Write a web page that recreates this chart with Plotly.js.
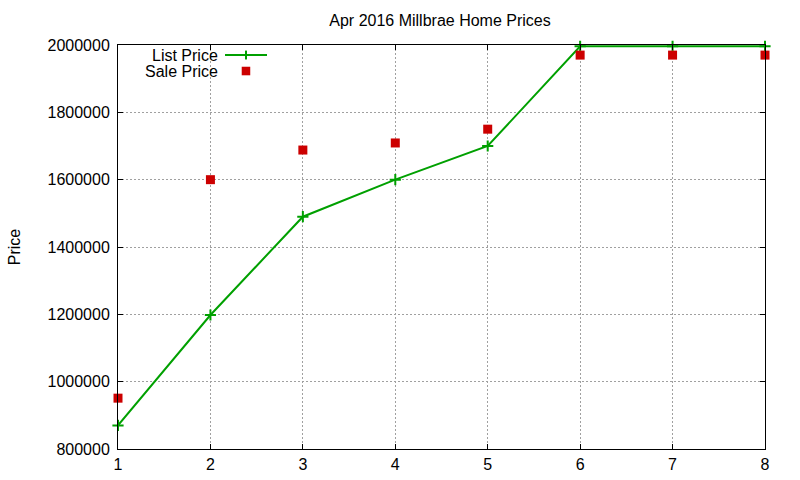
<!DOCTYPE html>
<html>
<head>
<meta charset="utf-8">
<script src="https://cdn.plot.ly/plotly-3.0.1.min.js"></script>
<style>
  html, body { margin: 0; padding: 0; background: #ffffff; }
  #chart { width: 800px; height: 480px; }
</style>
</head>
<body>
<div id="chart"></div>
<script>
// Data
const months = [1, 2, 3, 4, 5, 6, 7, 8];
const listPrice = [870000, 1198000, 1490000, 1600000, 1700000, 1996000, 1996000, 1996000];
const salePrice = [951000, 1600000, 1688000, 1709000, 1750000, 1970000, 1970000, 1970000];
const yTicks = [800000, 1000000, 1200000, 1400000, 1600000, 1800000, 2000000];

const GREEN = '#00a000';
const RED = '#cc0000';
const FONT = 'Liberation Sans, Arial, sans-serif';
const FSIZE = 16;

const traces = [
    {
        x: months,
        y: listPrice,
        name: 'List Price',
        type: 'scatter',
        mode: 'lines+markers',
        line: { color: GREEN, width: 2 },
        marker: { symbol: 'cross-thin', size: 8, line: { color: GREEN, width: 2 } },
        showlegend: false,
        cliponaxis: false
    },
    {
        x: months,
        y: salePrice,
        name: 'Sale Price',
        type: 'scatter',
        mode: 'markers',
        marker: { symbol: 'square', size: 9, color: RED },
        showlegend: false,
        cliponaxis: false
    }
];

// gnuplot-style key: text right-aligned, sample to its right
const keyX0 = 0.1654, keyX1 = 0.2303, keyMid = 0.1978;
const keyY1 = 0.9752, keyY2 = 0.9356;

const axisCommon = {
    showline: true,
    linecolor: '#000000',
    linewidth: 1,
    mirror: 'ticks',
    ticks: 'inside',
    ticklen: 5,
    tickcolor: '#000000',
    showgrid: true,
    gridcolor: '#a0a0a0',
    griddash: '2px,2px',
    gridwidth: 1,
    zeroline: false,
    tickfont: { family: FONT, size: FSIZE, color: '#000000' }
};

const layout = {
    width: 800,
    height: 480,
    paper_bgcolor: '#ffffff',
    plot_bgcolor: '#ffffff',
    margin: { l: 118, r: 35, t: 45, b: 31 },
    font: { family: FONT, size: FSIZE, color: '#000000' },
    title: {
        text: 'Apr 2016 Millbrae Home Prices',
        font: { family: FONT, size: FSIZE, color: '#000000' },
        x: 0.55,
        xanchor: 'center',
        y: 0.957,
        yanchor: 'middle'
    },
    xaxis: Object.assign({}, axisCommon, {
        range: [1, 8],
        tickvals: months,
        ticktext: months.map(String),
        ticklabelstandoff: 1
    }),
    yaxis: Object.assign({}, axisCommon, {
        range: [800000, 2000000],
        tickvals: yTicks,
        ticktext: yTicks.map(String),
        ticklabelstandoff: 4,
        title: { text: 'Price', font: { family: FONT, size: FSIZE, color: '#000000' }, standoff: 22 }
    }),
    shapes: [
        { type: 'line', xref: 'paper', yref: 'paper', x0: keyX0, x1: keyX1, y0: keyY1, y1: keyY1,
          line: { color: GREEN, width: 2 } },
        { type: 'line', xref: 'paper', yref: 'paper', x0: keyMid, x1: keyMid, y0: keyY1 - 0.011, y1: keyY1 + 0.011,
          line: { color: GREEN, width: 2 } },
        { type: 'rect', xref: 'paper', yref: 'paper', x0: keyMid - 0.0066, x1: keyMid + 0.0066,
          y0: keyY2 - 0.0106, y1: keyY2 + 0.0106, fillcolor: RED, line: { width: 0 } }
    ],
    annotations: [
        { text: 'List Price', xref: 'paper', yref: 'paper', x: 0.1580, y: keyY1,
          xanchor: 'right', yanchor: 'middle', showarrow: false,
          font: { family: FONT, size: FSIZE, color: '#000000' } },
        { text: 'Sale Price', xref: 'paper', yref: 'paper', x: 0.1580, y: keyY2,
          xanchor: 'right', yanchor: 'middle', showarrow: false,
          font: { family: FONT, size: FSIZE, color: '#000000' } }
    ]
};

Plotly.newPlot('chart', traces, layout, { displayModeBar: false, responsive: false });
</script>
</body>
</html>
